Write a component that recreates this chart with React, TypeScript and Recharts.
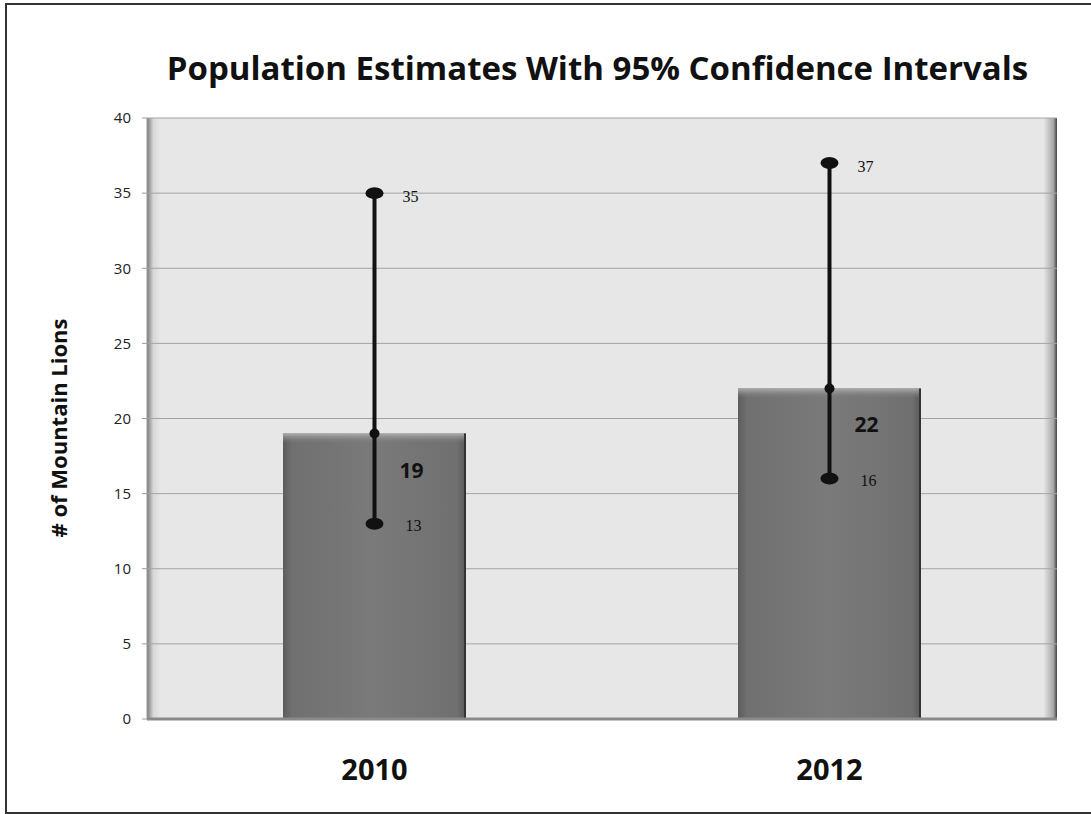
import {
  Bar,
  CartesianGrid,
  ComposedChart,
  ErrorBar,
  LabelList,
  Line,
  XAxis,
  YAxis,
} from "recharts";

const years = ["2010", "2012"];
const estimates = [19, 22];
const lowerBounds = [13, 16];
const upperBounds = [35, 37];
const yTicks = [0, 5, 10, 15, 20, 25, 30, 35, 40];

const data = years.map((year, i) => ({
  year,
  estimate: estimates[i],
  low: lowerBounds[i],
  high: upperBounds[i],
  err: [estimates[i] - lowerBounds[i], upperBounds[i] - estimates[i]],
}));

const FONT = "'Open Sans', Lato, sans-serif";

function BarShape(props: any) {
  const { x, y, width, height } = props;
  if (!height || height <= 0) return null;
  return (
    <g>
      <rect x={x} y={y} width={width} height={height} fill="url(#barBody)" />
      <rect x={x} y={y} width={width} height={10} fill="url(#barTop)" />
      <line x1={x + width - 1} y1={y} x2={x + width - 1} y2={y + height} stroke="#333" strokeWidth={2} />
    </g>
  );
}

function CapDot(props: any) {
  const { cx, cy } = props;
  if (cx == null || cy == null) return null;
  return <ellipse cx={cx} cy={cy} rx={9} ry={6} fill="#111" />;
}

function MeanDot(props: any) {
  const { cx, cy } = props;
  if (cx == null || cy == null) return null;
  return <circle cx={cx} cy={cy} r={5} fill="#111" />;
}

function boundLabel(dx: number, dy: number) {
  return (props: any) => {
    const { x, y, value } = props;
    return (
      <text
        x={x + dx}
        y={y + dy}
        textAnchor="middle"
        dominantBaseline="central"
        fontFamily="'Liberation Serif', 'DejaVu Serif', serif"
        fontSize={16}
        fill="#111"
      >
        {value}
      </text>
    );
  };
}

function meanLabel(props: any) {
  const { x, y, value } = props;
  return (
    <text
      x={x + 37}
      y={y + 36}
      textAnchor="middle"
      dominantBaseline="central"
      fontFamily={FONT}
      fontWeight={700}
      fontSize={21}
      fill="#111"
    >
      {value}
    </text>
  );
}

function YearTick(props: any) {
  const { x, y, payload } = props;
  return (
    <text x={x} y={y + 41} textAnchor="middle" dominantBaseline="central" fontFamily={FONT} fontWeight={700} fontSize={29} fill="#111">
      {payload.value}
    </text>
  );
}

export default function App() {
  return (
    <div style={{ position: "absolute", left: 0, top: 0, width: 1091, height: 814, background: "#fff", overflow: "hidden" }}>
      <div
        style={{
          position: "absolute",
          left: 5,
          top: 3,
          width: 1100,
          height: 807,
          borderLeft: "2px solid #333",
          borderTop: "2px solid #333",
          borderBottom: "2px solid #333",
        }}
      />
      <div
        style={{
          position: "absolute",
          left: 0,
          top: 47,
          width: 1195,
          textAlign: "center",
          fontFamily: FONT,
          fontWeight: 700,
          fontSize: 33,
          color: "#111",
          lineHeight: "42px",
          whiteSpace: "nowrap",
        }}
      >
        Population Estimates With 95% Confidence Intervals
      </div>
      <div
        style={{
          position: "absolute",
          left: 58,
          top: 428,
          transform: "translate(-50%, -50%) rotate(-90deg)",
          whiteSpace: "nowrap",
          fontFamily: FONT,
          fontWeight: 700,
          fontSize: 22,
          color: "#111",
        }}
      >
        # of Mountain Lions
      </div>
      <ComposedChart
        width={1091}
        height={814}
        data={data}
        margin={{ top: 118, right: 34, bottom: 35, left: 87 }}
        style={{ position: "absolute", left: 0, top: 0 }}
      >
        <defs>
          <linearGradient id="plotBg" x1="0" y1="0" x2="1" y2="0">
            <stop offset="0" stopColor="#7a7a7a" />
            <stop offset="0.007" stopColor="#d8d8d8" />
            <stop offset="0.015" stopColor="#e7e7e7" />
            <stop offset="0.985" stopColor="#e7e7e7" />
            <stop offset="0.996" stopColor="#a8a8a8" />
            <stop offset="1" stopColor="#444" />
          </linearGradient>
          <linearGradient id="barBody" x1="0" y1="0" x2="1" y2="0">
            <stop offset="0" stopColor="#5c5c5c" />
            <stop offset="0.05" stopColor="#707070" />
            <stop offset="0.5" stopColor="#7a7a7a" />
            <stop offset="0.95" stopColor="#707070" />
            <stop offset="1" stopColor="#5a5a5a" />
          </linearGradient>
          <linearGradient id="barTop" x1="0" y1="0" x2="0" y2="1">
            <stop offset="0" stopColor="#adadad" />
            <stop offset="1" stopColor="#7a7a7a" stopOpacity={0} />
          </linearGradient>
        </defs>
        <CartesianGrid vertical={false} stroke="#a3a3a3" fill="url(#plotBg)" fillOpacity={1} />
        <XAxis
          dataKey="year"
          height={60}
          axisLine={{ stroke: "#8a8a8a", strokeWidth: 3 }}
          tickLine={false}
          tick={<YearTick />}
        />
        <YAxis
          domain={[0, 40]}
          ticks={yTicks}
          width={60}
          axisLine={{ stroke: "#9a9a9a" }}
          tickLine={{ stroke: "#9a9a9a" }}
          tickSize={5}
          tickMargin={11}
          tick={{ fontFamily: FONT, fontSize: 15, fill: "#222" }}
        />
        <Bar dataKey="estimate" barSize={183} shape={<BarShape />} isAnimationActive={false}>
          <ErrorBar dataKey="err" width={0} strokeWidth={4} stroke="#111" direction="y" isAnimationActive={false} />
        </Bar>
        <Line dataKey="high" stroke="none" dot={<CapDot />} activeDot={false} isAnimationActive={false}>
          <LabelList dataKey="high" content={boundLabel(36, 3)} />
        </Line>
        <Line dataKey="low" stroke="none" dot={<CapDot />} activeDot={false} isAnimationActive={false}>
          <LabelList dataKey="low" content={boundLabel(39, 2)} />
        </Line>
        <Line dataKey="estimate" stroke="none" dot={<MeanDot />} activeDot={false} isAnimationActive={false}>
          <LabelList dataKey="estimate" content={meanLabel} />
        </Line>
      </ComposedChart>
    </div>
  );
}
